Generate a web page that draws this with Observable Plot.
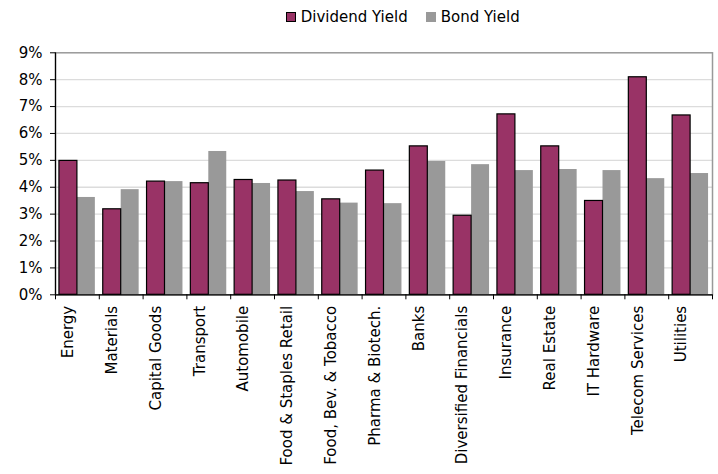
<!DOCTYPE html>
<html>
<head>
<meta charset="utf-8">
<script src="https://cdn.jsdelivr.net/npm/d3@7"></script>
<script src="https://cdn.jsdelivr.net/npm/@observablehq/plot@0.6"></script>
<style>
  html, body { margin: 0; padding: 0; background: #fff; }
  body { width: 718px; height: 474px; overflow: hidden; font-family: "DejaVu Sans", sans-serif; }
  #legend { position: relative; height: 34px; font-size: 15px; color: #000; }
  .item { position: absolute; top: 0; height: 34px; display: flex; align-items: center; }
  .sw { width: 10px; height: 10px; margin-right: 5px; box-sizing: border-box; }
  svg { display: block; }
</style>
</head>
<body>
<div id="legend"></div>
<div id="chart"></div>
<script>
const categories = ["Energy","Materials","Capital Goods","Transport","Automobile","Food & Staples Retail","Food, Bev. & Tobacco","Pharma & Biotech.","Banks","Diversified Financials","Insurance","Real Estate","IT Hardware","Telecom Services","Utilities"];
const seriesNames = ["Dividend Yield", "Bond Yield"];
const dividendYield = [4.98,3.18,4.21,4.15,4.27,4.25,3.55,4.62,5.52,2.94,6.71,5.52,3.49,8.09,6.67];
const bondYield = [3.62,3.91,4.21,5.33,4.14,3.84,3.41,3.39,4.96,4.84,4.62,4.66,4.62,4.32,4.51];
const yTicks = [0,1,2,3,4,5,6,7,8,9];
const colors = ["#993366", "#999999"];

const W = 718, legendH = 34, H = 474 - legendH;
const mL = 55, mR = 6, mT = 18.3, mB = 179.7;
const padInner = 0.18;
const step = (W - mL - mR) / categories.length;
const half = step * (1 - padInner) / 2;

const rows = categories.map((c, i) => ({category: c, dy: dividendYield[i], bond: bondYield[i]}));

// legend
const legend = document.getElementById("legend");
[[285.7, 0, "1px solid #000"], [425.7, 1, "none"]].forEach(([left, k, border]) => {
  const it = document.createElement("div");
  it.className = "item";
  it.style.left = left + "px";
  const sw = document.createElement("span");
  sw.className = "sw";
  sw.style.background = colors[k];
  sw.style.border = border;
  it.appendChild(sw);
  it.appendChild(document.createTextNode(seriesNames[k]));
  legend.appendChild(it);
});

const chart = Plot.plot({
  width: W,
  height: H,
  marginLeft: mL,
  marginRight: mR,
  marginTop: mT,
  marginBottom: mB,
  style: {fontFamily: "DejaVu Sans", fontSize: "15px", color: "#000", background: "#fff"},
  x: {domain: categories, type: "band", paddingInner: padInner, paddingOuter: padInner / 2, align: 0.5, round: false, axis: null},
  y: {domain: [0, 9], axis: null},
  marks: [
    Plot.ruleY(yTicks.slice(1, -1), {stroke: "#dcdcdc", strokeWidth: 1.3}),
    Plot.frame({stroke: "#999999", strokeWidth: 1.5}),
    Plot.barY(rows, {x: "category", y: "bond", fill: colors[1], insetLeft: half}),
    Plot.barY(rows, {x: "category", y: "dy", fill: colors[0], stroke: "#000", strokeWidth: 1.2, insetRight: half}),
    Plot.ruleY([0], {stroke: "#000", strokeWidth: 1.2}),
    Plot.ruleX([categories[0]], {x: d => d, dx: -step / 2, y1: 0, y2: 9, stroke: "#000", strokeWidth: 1.2}),
    Plot.ruleX(categories, {x: d => d, dx: -step / 2, y1: 0, y2: 0, insetBottom: -5, stroke: "#000"}),
    Plot.ruleX([categories[categories.length - 1]], {x: d => d, dx: step / 2, y1: 0, y2: 0, insetBottom: -5, stroke: "#000"}),
    Plot.axisY({ticks: yTicks, tickFormat: d => d + "%", tickSize: 5, tickPadding: 8, stroke: "#000", fill: "#000", fontSize: 15}),
    Plot.text(categories, {x: d => d, y: 0, text: d => d, rotate: -90, textAnchor: "end", lineAnchor: "middle", dx: -9, dy: 11, fill: "#000", fontSize: 15})
  ]
});
document.getElementById("chart").appendChild(chart);
</script>
</body>
</html>
